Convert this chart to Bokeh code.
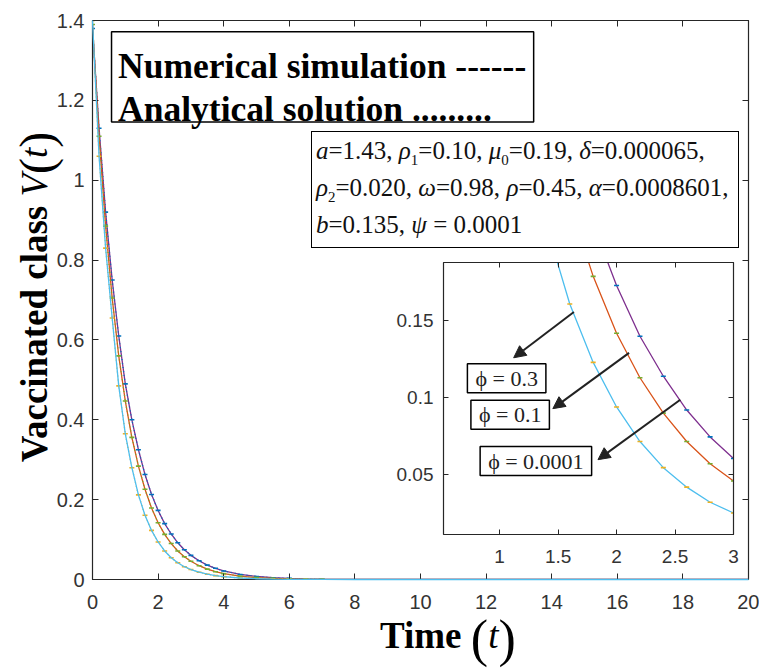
from bokeh.plotting import figure
from bokeh.models import (Range1d, LinearAxis, FixedTicker, PrintfTickFormatter,
                          Label, BoxAnnotation, Arrow, NormalHead, GridBox, Div)
from bokeh.embed import file_html
from bokeh.resources import INLINE

# ---------------- data ----------------
t = [0.0, 0.2, 0.4, 0.6, 0.8, 1.0, 1.2, 1.4, 1.6, 1.8, 2.0, 2.2, 2.4, 2.6, 2.8, 3.0,
     3.25, 3.5, 3.75, 4.0, 4.5, 5.0, 5.5, 6.0, 6.5, 7.0, 8.0, 9.0, 10.0, 12.0, 14.0,
     16.0, 18.0, 20.0]
v_phi_03 = [1.38, 1.13, 0.92, 0.75, 0.61, 0.49, 0.40, 0.325, 0.263, 0.213, 0.173, 0.140,
            0.114, 0.092, 0.0745, 0.0605, 0.047, 0.036, 0.028, 0.0214, 0.0127, 0.0076,
            0.0045, 0.0027, 0.0016, 0.0009, 0.0003, 0.0001, 0, 0, 0, 0, 0, 0]
v_phi_01 = [1.39, 1.11, 0.885, 0.705, 0.56, 0.447, 0.356, 0.284, 0.226, 0.179, 0.142, 0.113,
            0.090, 0.0715, 0.057, 0.0458, 0.0345, 0.026, 0.0195, 0.0147, 0.0083, 0.0047,
            0.0027, 0.0015, 0.0008, 0.0005, 0.0001, 0, 0, 0, 0, 0, 0, 0]
v_phi_00001 = [1.40, 1.06, 0.83, 0.655, 0.485, 0.365, 0.28, 0.212, 0.161, 0.123, 0.094, 0.0715,
               0.0545, 0.0418, 0.032, 0.025, 0.0182, 0.0133, 0.0097, 0.0071, 0.0037, 0.0019,
               0.0010, 0.0005, 0.0003, 0.0001, 0, 0, 0, 0, 0, 0, 0, 0]
n_marked = 26  # analytical markers shown up to t = 7

x_ticks = [0, 2, 4, 6, 8, 10, 12, 14, 16, 18, 20]
x_tick_labels = ["0", "2", "4", "6", "8", "10", "12", "14", "16", "18", "20"]
y_ticks = [0, 0.2, 0.4, 0.6, 0.8, 1.0, 1.2, 1.4]
y_tick_labels = ["0", "0.2", "0.4", "0.6", "0.8", "1", "1.2", "1.4"]
ins_x_ticks = [1, 1.5, 2, 2.5, 3]
ins_x_tick_labels = ["1", "1.5", "2", "2.5", "3"]
ins_y_ticks = [0.05, 0.1, 0.15]
ins_y_tick_labels = ["0.05", "0.1", "0.15"]

line_colors = ["#7E2F8E", "#D95319", "#4DBEEE"]
mark_colors = ["#0072BD", "#77AC30", "#EDB120"]
series = [v_phi_03, v_phi_01, v_phi_00001]

SERIF = "Liberation Serif"
SANS = "Liberation Sans"
AX = "#262626"
TICK_TXT = "#333333"

# borders shared by both plots (the grid aligns their frames)
B_LEFT, B_RIGHT, B_TOP, B_BOTTOM = 92, 11, 20, 75


def style_axes(fig, xt, xl, yt, yl, size, xstand, ystand, tick_len):
    fig.xaxis.ticker = FixedTicker(ticks=xt)
    fig.yaxis.ticker = FixedTicker(ticks=yt)
    fig.xaxis.major_label_overrides = {k: v for k, v in zip(xt, xl)}
    fig.yaxis.major_label_overrides = {k: v for k, v in zip(yt, yl)}
    fig.xaxis.major_label_standoff = xstand
    fig.yaxis.major_label_standoff = ystand
    for ax in (fig.xaxis[0], fig.yaxis[0]):
        ax.major_label_text_font = SANS
        ax.major_label_text_font_size = size
        ax.major_label_text_color = TICK_TXT
    for side, ticks in (("above", xt), ("right", yt)):
        ax = LinearAxis(ticker=FixedTicker(ticks=ticks),
                        formatter=PrintfTickFormatter(format=""),
                        major_label_standoff=0, major_label_text_font_size="1px")
        fig.add_layout(ax, side)
    for ax in fig.axis:
        ax.axis_line_color = AX
        ax.axis_line_width = 1.2
        ax.major_tick_line_color = AX
        ax.major_tick_in = tick_len
        ax.major_tick_out = 0
        ax.minor_tick_line_color = None
    fig.grid.visible = False
    fig.outline_line_color = AX


# ---------------- main figure ----------------
p = figure(width=759, height=654, x_range=Range1d(0, 20), y_range=Range1d(0, 1.4),
           output_backend="svg", toolbar_location=None,
           min_border_left=B_LEFT, min_border_right=B_RIGHT,
           min_border_top=B_TOP, min_border_bottom=B_BOTTOM)
style_axes(p, x_ticks, x_tick_labels, y_ticks, y_tick_labels, "20px", 15, 8, 6)

for vals, lc, mc in zip(series, line_colors, mark_colors):
    r = p.line(t, vals, line_color=lc, line_width=1.3)
    if lc == "#4DBEEE":
        r.level = "overlay"
    p.line(t[:n_marked], vals[:n_marked], line_color=mc, line_width=1.3, line_dash="1 3")
    p.scatter(t[:n_marked], vals[:n_marked], marker="dash", size=5, line_color=mc,
              line_width=1.6)

# legend-like text box
p.add_layout(BoxAnnotation(left=0.58, right=13.45, bottom=1.146, top=1.372,
                           fill_color="white", fill_alpha=1, line_color="black",
                           line_alpha=1, line_width=1.5))
p.add_layout(Label(x=0.78, y=1.287, text="Numerical simulation ------", text_font=SERIF,
                   text_font_style="bold", text_font_size="35.5px", text_color="black",
                   text_baseline="alphabetic"))
p.add_layout(Label(x=0.78, y=1.179, text="Analytical solution .........", text_font=SERIF,
                   text_font_style="bold", text_font_size="35.5px", text_color="black",
                   text_baseline="alphabetic"))

# ---------------- inset figure ----------------
ins = figure(width=B_LEFT + 290 + B_RIGHT, height=B_TOP + 272 + B_BOTTOM,
             x_range=Range1d(0.52, 3.0), y_range=Range1d(0.011, 0.188),
             output_backend="svg", toolbar_location=None,
             min_border_left=B_LEFT, min_border_right=B_RIGHT,
             min_border_top=B_TOP, min_border_bottom=B_BOTTOM,
             border_fill_color=None, background_fill_color="white",
             margin=(262 - B_TOP, 0, 0, 443 - B_LEFT))
style_axes(ins, ins_x_ticks, ins_x_tick_labels, ins_y_ticks, ins_y_tick_labels,
           "19px", 15, 10, 5)

for vals, lc, mc in zip(series, line_colors, mark_colors):
    ins.line(t, vals, line_color=lc, line_width=1.3)
    ins.scatter(t[:n_marked], vals[:n_marked], marker="dash", size=5, line_color=mc,
                line_width=1.6)

for xs, ys, xe, ye in ((1.635, 0.1558, 1.12, 0.126),
                       (2.107, 0.1292, 1.455, 0.0929),
                       (2.545, 0.0987, 1.841, 0.0597)):
    ins.add_layout(Arrow(end=NormalHead(size=12, fill_color="#222222", line_color="#222222"),
                         x_start=xs, y_start=ys, x_end=xe, y_end=ye,
                         line_color="#222222", line_width=2))

for txt, xx, yy in (("ϕ = 0.3", 1.06, 0.1127), ("ϕ = 0.1", 1.09, 0.089),
                    ("ϕ = 0.0001", 1.31, 0.0588)):
    ins.add_layout(Label(x=xx, y=yy, text=txt, text_font=SERIF, text_font_size="22px",
                         text_color="#222222", text_align="center", text_baseline="middle",
                         border_line_color="black", border_line_width=1.5,
                         background_fill_color="white", padding=(8, 2)))

# ---------------- HTML texts (mixed bold / italic) ----------------
paren_y = '<span style="font-size:48px;line-height:0;vertical-align:-6px;font-weight:normal">{}</span>'
paren_x = '<span style="font-size:52px;line-height:0;vertical-align:-8px;font-weight:normal">{}</span>'
ytitle = Div(text='<b>Vaccinated class</b> <i>V</i>' + paren_y.format("(") + '<i>t</i>'
                  + paren_y.format(")"),
             width=420, height=50, margin=(507, 0, 0, 10),
             styles={"transform": "rotate(-90deg)", "transform-origin": "0 0",
                     "font-family": SERIF, "font-size": "37px", "line-height": "50px",
                     "text-align": "center", "color": "black", "white-space": "nowrap"})
xtitle = Div(text='<b>Time</b> ' + paren_x.format("(") + '<i>t</i>' + paren_x.format(")"),
             width=200, height=44, margin=(614, 0, 0, 380),
             styles={"font-family": SERIF, "font-size": "37px", "line-height": "44px",
                     "color": "black", "white-space": "nowrap"})

sub = '<sub style="font-size:15px;line-height:0">{}</sub>'
param_lines = [
    '<i>a</i>=1.43, <i>ρ</i>' + sub.format("1") + '=0.10, <i>μ</i>' + sub.format("0")
    + '=0.19, <i>δ</i>=0.000065,',
    '<i>ρ</i>' + sub.format("2") + '=0.020, <i>ω</i>=0.98, <i>ρ</i>=0.45, <i>α</i>=0.0008601,',
    '<i>b</i>=0.135, <i>ψ</i> = 0.0001',
]
params = Div(text="<br>".join(param_lines), width=428, height=117, margin=(131, 0, 0, 311),
             styles={"font-family": SERIF, "font-size": "25px", "line-height": "37px",
                     "color": "#111111", "background-color": "white",
                     "border": "1.5px solid black", "box-sizing": "border-box",
                     "padding-left": "4px", "padding-top": "0px", "white-space": "nowrap"})

layout = GridBox(children=[(p, 0, 0), (ins, 0, 0), (params, 0, 0), (ytitle, 0, 0),
                           (xtitle, 0, 0)])

open("out.html", "w").write(file_html(layout, INLINE))
